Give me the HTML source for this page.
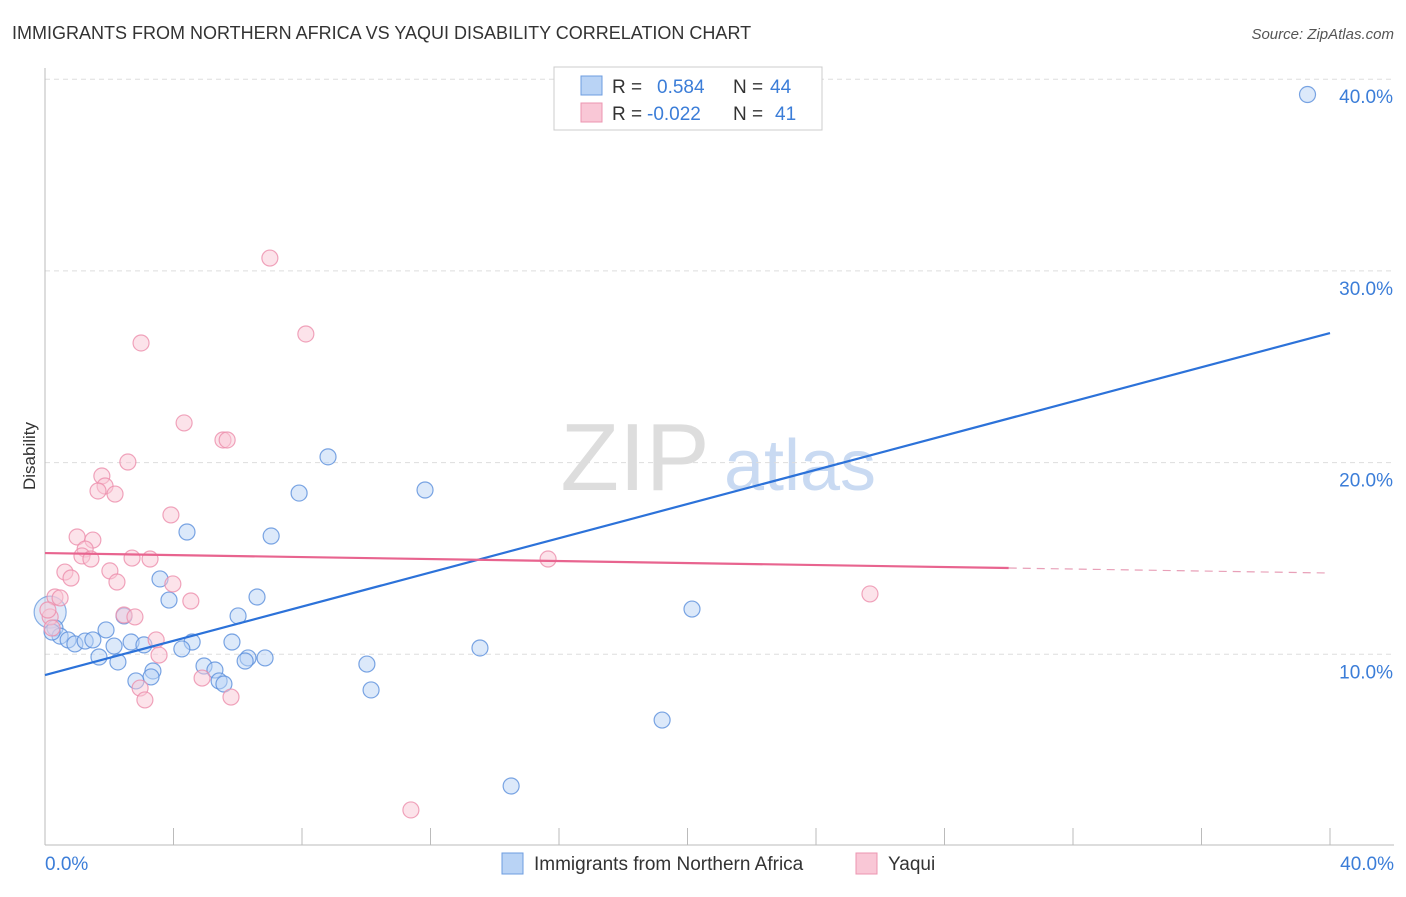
<!DOCTYPE html>
<html><head><meta charset="utf-8"><style>
body{margin:0;background:#fff;font-family:"Liberation Sans",sans-serif}
svg text{font-family:"Liberation Sans",sans-serif}
</style></head><body>
<svg id="c" width="1406" height="892">
<text x="12" y="39" font-size="18" fill="#333">IMMIGRANTS FROM NORTHERN AFRICA VS YAQUI DISABILITY CORRELATION CHART</text>
<text x="1394" y="39" font-size="15" fill="#555" text-anchor="end" font-style="italic">Source: ZipAtlas.com</text>
<text x="35" y="456" font-size="17" fill="#333" text-anchor="middle" transform="rotate(-90 35 456)">Disability</text>
<g><text x="635" y="490" font-size="96" fill="#ddd" text-anchor="middle" font-family="Liberation Serif">ZIP</text><text x="800" y="490" font-size="72" fill="#c9daf2" text-anchor="middle">atlas</text></g>
<g id="grid"></g><g id="axes"></g><g id="pts"></g><g id="lines"></g>
<g>
<rect x="554" y="67" width="268" height="63" fill="#fff" stroke="#ccc"/>
<rect x="581" y="76" width="21" height="19" fill="#b9d3f5" stroke="#6d9de0"/>
<rect x="581" y="103" width="21" height="19" fill="#f9c7d6" stroke="#ec95b0"/>
<text x="612" y="93" font-size="19" fill="#333">R =</text>
<text x="657" y="93" font-size="19" fill="#3b7dd8">0.584</text>
<text x="733" y="93" font-size="19" fill="#333">N =</text>
<text x="770" y="93" font-size="19" fill="#3b7dd8">44</text>
<text x="612" y="120" font-size="19" fill="#333">R =</text>
<text x="647" y="120" font-size="19" fill="#3b7dd8">-0.022</text>
<text x="733" y="120" font-size="19" fill="#333">N =</text>
<text x="775" y="120" font-size="19" fill="#3b7dd8">41</text>
</g>
<g>
<rect x="502" y="853" width="21" height="21" fill="#b9d3f5" stroke="#6d9de0"/>
<text x="534" y="870" font-size="19" fill="#333">Immigrants from Northern Africa</text>
<rect x="856" y="853" width="21" height="21" fill="#f9c7d6" stroke="#ec95b0"/>
<text x="888" y="870" font-size="19" fill="#333">Yaqui</text>
</g>
</svg>
<script>
const yTicks=[10,20,30,40];
const yTickLabels=["10.0%","20.0%","30.0%","40.0%"];
const xLabels=["0.0%","40.0%"];
const blueX=[39.3,8.81,11.83,7.91,4.42,7.04,3.58,3.86,6.60,2.46,6.01,1.90,0.31,0.47,0.72,0.93,1.25,1.49,2.15,2.68,3.08,4.58,4.26,5.82,1.68,2.27,6.32,6.85,6.23,4.95,5.29,3.36,3.30,2.83,5.42,5.57,10.02,10.15,13.54,20.14,19.21,14.51,0.22];
const blueY=[39.2,20.3,18.57,18.41,16.38,16.17,13.93,12.83,12.99,12.0,12.0,11.27,11.37,10.95,10.75,10.54,10.69,10.75,10.43,10.64,10.49,10.64,10.28,10.64,9.86,9.60,9.81,9.81,9.65,9.39,9.18,9.13,8.82,8.61,8.61,8.45,9.49,8.14,10.33,12.36,6.57,3.13,11.16];
const pinkX=[7.0,8.12,2.99,4.33,5.54,5.67,2.58,1.77,1.87,1.65,2.18,3.92,1.0,1.49,1.25,1.15,1.43,2.71,3.27,15.66,0.62,0.81,2.02,2.24,3.98,4.54,0.31,0.47,2.46,2.8,0.16,3.46,3.55,4.89,2.96,3.11,5.79,11.39,25.68,0.09,0.22];
const pinkY=[30.67,26.71,26.24,22.07,21.18,21.18,20.03,19.3,18.78,18.52,18.36,17.27,16.12,15.96,15.49,15.13,14.97,15.02,14.97,14.97,14.29,13.98,14.35,13.77,13.67,12.78,12.99,12.94,12.05,11.95,11.95,10.75,9.96,8.76,8.24,7.62,7.77,1.88,13.15,12.31,11.37];
const bigX=[0.16], bigY=[12.2];
const blueTrend=[8.92,26.76];
const pinkTrend=[15.28,14.24];
const pinkSolidEnd=30;
const X=v=>45+v*32.125, Y=v=>846-v*19.17;
const NS="http://www.w3.org/2000/svg";
function mk(p,t,a){const e=document.createElementNS(NS,t);for(const k in a)e.setAttribute(k,a[k]);document.getElementById(p).appendChild(e);return e;}
yTicks.forEach((t,i)=>{
 const l=mk('grid','line',{x1:45,x2:1394,y1:Y(t),y2:Y(t),stroke:'#ddd','stroke-dasharray':'5,4'});
 
 
 const tx=mk('grid','text',{x:1393,y:Y(t)+24,'font-size':19,fill:'#3b7dd8','text-anchor':'end'});
 tx.textContent=yTickLabels[i];
 
 
});
const ax=mk('axes','line',{x1:45,x2:45,y1:68,y2:845,stroke:'#bbb'});


const bx=mk('axes','line',{x1:45,x2:1394,y1:845,y2:845,stroke:'#bbb'});


for(let i=0;i<=10;i++){const t=mk('axes','line',{x1:X(i*4),x2:X(i*4),y1:828,y2:845,stroke:'#bbb'});
 
 }
[[0,'start',45],[40,'end',1394]].forEach((d,i)=>{const t=mk('axes','text',{x:d[2],y:870,'font-size':19,fill:'#3b7dd8','text-anchor':d[1]});t.textContent=xLabels[i];
 
 });
function dots(xs,ys,r,f,s,name,op){xs.forEach((x,i)=>{const c=mk('pts','circle',{cx:X(x),cy:Y(ys[i]),r:r,fill:f,'fill-opacity':op,stroke:s,'stroke-opacity':0.8,'stroke-width':1.2});
 
 });}
dots(bigX,bigY,16,'#aecbf0','#6d9de0','blue-point',0.4);
dots(blueX,blueY,8,'#b9d3f5','#5a8fdc','blue-point',0.5);
dots(pinkX,pinkY,8,'#f9c7d6','#ec8dab','pink-point',0.5);
const bl=mk('lines','line',{x1:X(0),y1:Y(blueTrend[0]),x2:X(40),y2:Y(blueTrend[1]),stroke:'#2c72d9','stroke-width':2.2});


const pv=x=>pinkTrend[0]+(pinkTrend[1]-pinkTrend[0])*x/40;
const pl=mk('lines','line',{x1:X(0),y1:Y(pv(0)),x2:X(pinkSolidEnd),y2:Y(pv(pinkSolidEnd)),stroke:'#e8648f','stroke-width':2.2});


const pd=mk('lines','line',{x1:X(pinkSolidEnd),y1:Y(pv(pinkSolidEnd)),x2:X(40),y2:Y(pv(40)),stroke:'#e8a0b8','stroke-width':1.2,'stroke-dasharray':'8,6'});


</script>
</body></html>
